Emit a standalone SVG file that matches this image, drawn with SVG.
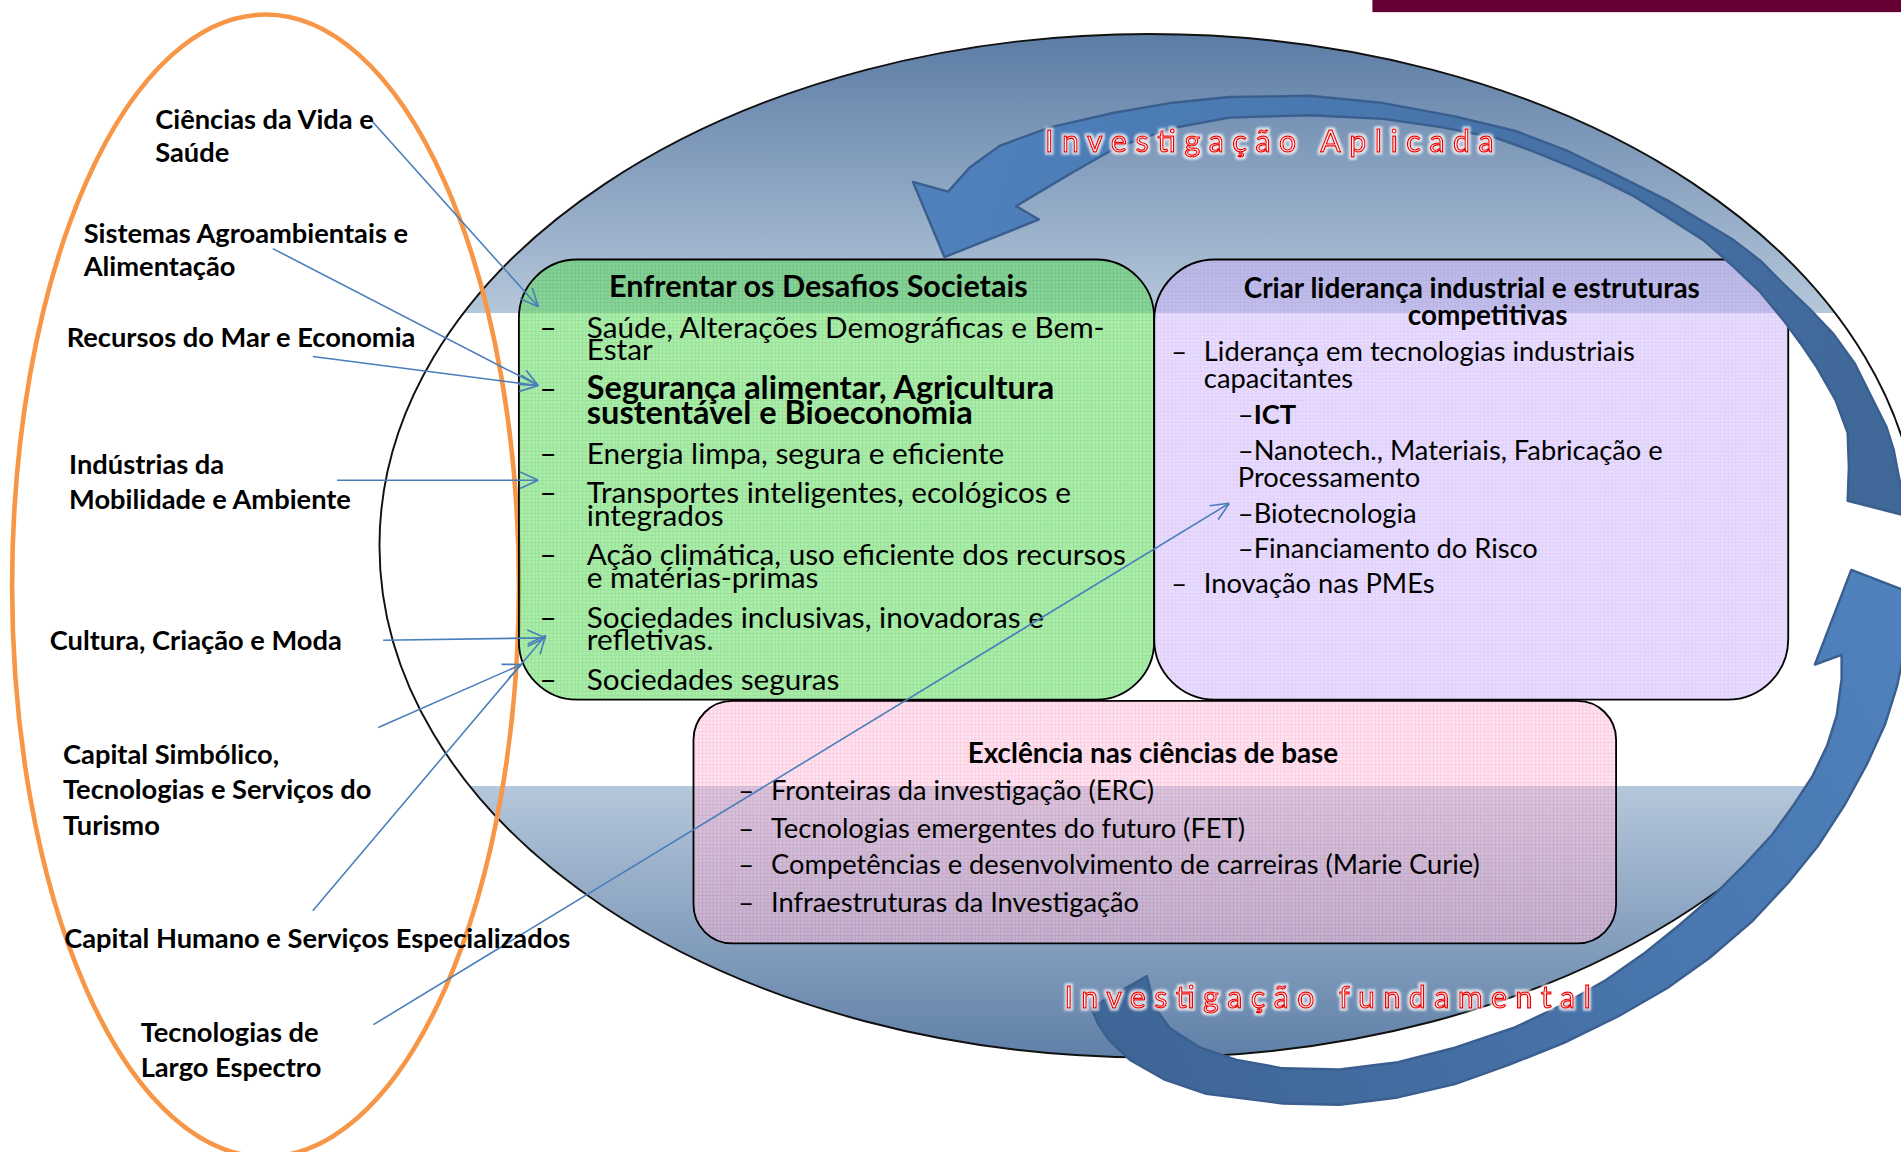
<svg xmlns="http://www.w3.org/2000/svg" width="1901" height="1152" viewBox="0 0 1901 1152">
<defs>
<style>
text{font-family:Lato,"Liberation Sans",sans-serif;fill:#000}
.lbl{font-weight:700;font-size:22.5px}
.gt{font-size:24.5px}
.gb{font-size:26.8px;font-weight:700}
.pt{font-size:22.5px}
.ttl{font-weight:700;font-size:23px}
.conn{stroke:#4A7EBB;stroke-width:1.3;fill:none;marker-end:url(#ah)}
.big{stroke:#3A5F8E;stroke-width:2;stroke-linejoin:round}
.box{stroke:#000;stroke-width:1.5}
.spaced{font-size:25px;fill:#fff;stroke:#F00000;stroke-width:1.1;filter:url(#glow)}
</style>
<filter id="glow" x="-5%" y="-40%" width="110%" height="180%">
<feMorphology in="SourceAlpha" operator="dilate" radius="1.6" result="d"/>
<feGaussianBlur in="d" stdDeviation="1" result="b"/>
<feFlood flood-color="#FFFFFF" flood-opacity="0.75"/>
<feComposite in2="b" operator="in" result="g"/>
<feMerge><feMergeNode in="g"/><feMergeNode in="SourceGraphic"/></feMerge>
</filter>
<linearGradient id="ellGrad" gradientUnits="userSpaceOnUse" x1="0" y1="28" x2="0" y2="872">
<stop offset="0" stop-color="#5C7CA5"/>
<stop offset="0.2725" stop-color="#B5C7DA"/>
<stop offset="0.2725" stop-color="#FFFFFF"/>
<stop offset="0.7346" stop-color="#FFFFFF"/>
<stop offset="0.7346" stop-color="#B5C7DA"/>
<stop offset="1" stop-color="#6080A8"/>
</linearGradient>
<linearGradient id="upGrad" gradientUnits="userSpaceOnUse" x1="760" y1="150" x2="1570" y2="400">
<stop offset="0" stop-color="#4F81BD"/>
<stop offset="1" stop-color="#3F6797"/>
</linearGradient>
<linearGradient id="lowGrad" gradientUnits="userSpaceOnUse" x1="920" y1="880" x2="1560" y2="520">
<stop offset="0" stop-color="#3E6596"/>
<stop offset="1" stop-color="#4F81BD"/>
</linearGradient>
<pattern id="patG" width="3" height="3" patternUnits="userSpaceOnUse">
<rect width="3" height="3" fill="#6CE36C"/><path d="M0,0.4H3M0.4,0V3" stroke="#50C650" stroke-width="0.7"/>
</pattern>
<pattern id="patP" width="3" height="3" patternUnits="userSpaceOnUse">
<rect width="3" height="3" fill="#D2B9FF"/><path d="M0,0.4H3M0.4,0V3" stroke="#C0A0F0" stroke-width="0.7"/>
</pattern>
<pattern id="patK" width="3" height="3" patternUnits="userSpaceOnUse">
<rect width="3" height="3" fill="#FFC8E1"/><path d="M0,0.4H3M0.4,0V3" stroke="#F59AC4" stroke-width="0.7"/>
</pattern>
<marker id="ah" viewBox="0 0 10 10" refX="10" refY="5" markerWidth="15" markerHeight="15" markerUnits="userSpaceOnUse" orient="auto">
<path d="M0,0.5L10,5L0,9.5" fill="none" stroke="#4A7EBB" stroke-width="0.9"/>
</marker>
</defs>
<rect width="1901" height="1152" fill="#fff"/>
<g transform="scale(1.21237,1.21263)">
<rect id="top-bar" x="1132" y="0" width="436" height="10" fill="#650033"/>
<g id="ellipse-background">
<ellipse cx="948" cy="450" rx="635" ry="422" fill="url(#ellGrad)" stroke="#111" stroke-width="1.6"/>
</g>
<g id="domains-cluster">
<ellipse cx="219" cy="483" rx="209" ry="471" fill="none" stroke="#F79646" stroke-width="3.8"/>
</g>
<g id="node-desafios">
<rect class="box" x="428" y="214" width="524" height="363" rx="48" fill="url(#patG)" fill-opacity="0.58"/>
<text class="ttl" x="675" y="245" text-anchor="middle" style="font-size:25.2px">Enfrentar os Desafios Societais</text>
<text class="gt" x="445" y="279">–</text>
<text class="gt" x="484" y="279">Saúde, Alterações Demográficas e Bem-<tspan x="484" y="297">Estar</tspan></text>
<text class="gt" x="445" y="329">–</text>
<text class="gb" x="484" y="329">Segurança alimentar, Agricultura<tspan x="484" y="350">sustentável e Bioeconomia</tspan></text>
<text class="gt" x="445" y="383">–</text>
<text class="gt" x="484" y="383">Energia limpa, segura e eficiente</text>
<text class="gt" x="445" y="415">–</text>
<text class="gt" x="484" y="415">Transportes inteligentes, ecológicos e<tspan x="484" y="434">integrados</tspan></text>
<text class="gt" x="445" y="466">–</text>
<text class="gt" x="484" y="466">Ação climática, uso eficiente dos recursos<tspan x="484" y="485">e matérias-primas</tspan></text>
<text class="gt" x="445" y="518">–</text>
<text class="gt" x="484" y="518">Sociedades inclusivas, inovadoras e<tspan x="484" y="536">refletivas.</tspan></text>
<text class="gt" x="445" y="569">–</text>
<text class="gt" x="484" y="569">Sociedades seguras</text>
</g>
<g id="node-lideranca">
<rect class="box" x="952" y="214" width="523" height="363" rx="50" fill="url(#patP)" fill-opacity="0.5"/>
<text class="ttl" x="1214" y="246" text-anchor="middle">Criar liderança industrial e estruturas<tspan x="1227" y="268">competitivas</tspan></text>
<text class="pt" x="966" y="298">–</text>
<text class="pt" x="993" y="298">Liderança em tecnologias industriais<tspan x="993" y="320">capacitantes</tspan></text>
<text class="pt" x="1021" y="350">–<tspan font-weight="700">ICT</tspan></text>
<text class="pt" x="1021" y="379">–Nanotech., Materiais, Fabricação e<tspan x="1021" y="402">Processamento</tspan></text>
<text class="pt" x="1021" y="431">–Biotecnologia</text>
<text class="pt" x="1021" y="460">–Financiamento do Risco</text>
<text class="pt" x="966" y="489">–</text>
<text class="pt" x="993" y="489">Inovação nas PMEs</text>
</g>
<g id="node-excelencia">
<rect class="box" x="572" y="578" width="761" height="200" rx="32" fill="url(#patK)" fill-opacity="0.5"/>
<text class="ttl" x="951" y="629" text-anchor="middle">Exclência nas ciências de base</text>
<text class="pt" x="609" y="660">–</text>
<text class="pt" x="636" y="660">Fronteiras da investigação (ERC)</text>
<text class="pt" x="609" y="691">–</text>
<text class="pt" x="636" y="691">Tecnologias emergentes do futuro (FET)</text>
<text class="pt" x="609" y="721">–</text>
<text class="pt" x="636" y="721">Competências e desenvolvimento de carreiras (Marie Curie)</text>
<text class="pt" x="609" y="752">–</text>
<text class="pt" x="636" y="752">Infraestruturas da Investigação</text>
</g>
<g id="arrow-aplicada">
<path class="big" fill="url(#upGrad)" d="M753,150 L782,158 L800,138 L825,120 L866,105 L919,93 L965,85 L1014,80 L1080,79 L1141,85 L1200,96 L1250,108 L1292,124 L1335,145 L1375,165 L1405,183 L1430,198 L1452,215 L1471,234 L1492,254 L1512,275 L1530,300 L1545,330 L1556,352 L1562,371 L1566,392 L1570,412 L1575,426 L1524,413 L1525,385 L1524,357 L1514,330 L1498,302 L1485,283 L1471,264 L1452,241 L1430,220 L1405,198 L1375,179 L1348,162 L1320,148 L1292,136 L1265,125 L1235,114 L1190,105 L1141,98 L1080,95 L1014,97 L965,106 L920,122 L885,142 L858,158 L838,170 L857,181 L779,212 Z"/>
<text class="spaced" x="862" y="125" textLength="370" lengthAdjust="spacing">Investigação Aplicada</text>
</g>
<g id="arrow-fundamental">
<path class="big" fill="url(#lowGrad)" d="M900,831 L906,845 L915,858 L932,874 L960,890 L995,902 L1058,910 L1105,911 L1153,905 L1200,894 L1245,878 L1290,860 L1335,838 L1375,815 L1410,790 L1445,760 L1475,728 L1500,697 L1522,663 L1540,630 L1555,597 L1565,565 L1571,535 L1576,510 L1605,500 L1527,470 L1497,548 L1519,540 L1519,560 L1515,590 L1507,615 L1495,640 L1480,663 L1462,688 L1440,712 L1415,737 L1385,763 L1355,787 L1325,808 L1290,828 L1250,847 L1200,864 L1153,876 L1105,882 L1058,881 L1020,874 L990,864 L965,848 L952,830 L946,805 Z"/>
<text class="spaced" x="878" y="831" textLength="434" lengthAdjust="spacing">Investigação fundamental</text>
</g>
<g id="connectors">
<path class="conn" d="M307,100 L444,253"/>
<path class="conn" d="M225,205 L444,318"/>
<path class="conn" d="M258,294 L444,318"/>
<path class="conn" d="M278,396 L444,396"/>
<path class="conn" d="M316,528 L450,526"/>
<path class="conn" d="M312,600 L430,548"/>
<path class="conn" d="M258,751 L450,524"/>
<path class="conn" d="M308,845 L1014,415"/>
</g>
<g id="node-ciencias"><text class="lbl" x="128" y="106">Ciências da Vida e<tspan x="128" y="134">Saúde</tspan></text></g>
<g id="node-agro"><text class="lbl" x="69" y="200">Sistemas Agroambientais e<tspan x="69" y="228">Alimentação</tspan></text></g>
<g id="node-mar"><text class="lbl" x="55" y="286">Recursos do Mar e Economia</text></g>
<g id="node-mobilidade"><text class="lbl" x="57" y="391">Indústrias da<tspan x="57" y="420">Mobilidade e Ambiente</tspan></text></g>
<g id="node-cultura"><text class="lbl" x="41" y="536">Cultura, Criação e Moda</text></g>
<g id="node-turismo"><text class="lbl" x="52" y="630">Capital Simbólico,<tspan x="52" y="659">Tecnologias e Serviços do</tspan><tspan x="52" y="689">Turismo</tspan></text></g>
<g id="node-capital-humano"><text class="lbl" x="53" y="782">Capital Humano e Serviços Especializados</text></g>
<g id="node-largo-espectro"><text class="lbl" x="116" y="859">Tecnologias de<tspan x="116" y="888">Largo Espectro</tspan></text></g>
</g>
</svg>
